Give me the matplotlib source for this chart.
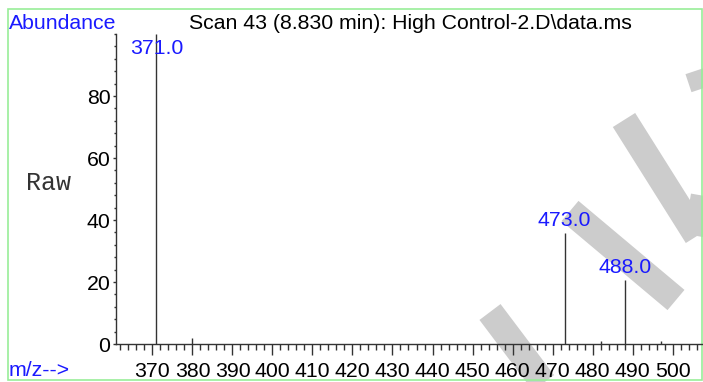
import matplotlib
matplotlib.use("Agg")
import matplotlib.pyplot as plt
from matplotlib.lines import Line2D
from matplotlib.patches import Rectangle

# spectrum (scan 43)
mz = [371.0, 380.0, 473.0, 482.0, 488.0, 497.0]
abundance = [100.0, 1.9, 35.8, 1.0, 20.6, 0.9]
labeled = [371.0, 473.0, 488.0]

x_ticks = list(range(370, 501, 10))
y_ticks = [0, 20, 40, 60, 80]

title = "Scan 43 (8.830 min): High Control-2.D\\data.ms"

plt.rcParams['font.family'] = ['Liberation Sans', 'DejaVu Sans']
fs = 15.3

W, H = 703, 382
fig = plt.figure(figsize=(W / 100, H / 100), dpi=100)

def px(x, y):  # pixel coords (top-left origin) -> figure fraction
    return x / W, 1 - y / H

# grey watermark strokes behind everything
grey = '#cccccc'
for (x0, y0), (x1, y1) in [((490, 312), (545, 385)),
                           ((570, 211), (676, 300)),
                           ((624, 120), (697, 236)),
                           ((697, 236), (712, 150)),
                           ((698, 70), (712, 112))]:
    a, b = px(x0, y0), px(x1, y1)
    fig.add_artist(Line2D([a[0], b[0]], [a[1], b[1]], transform=fig.transFigure,
                          color=grey, lw=19, solid_capstyle='butt', zorder=0))

# green frame
l, t = px(8, 9)
r, b = px(702, 380)
fig.add_artist(Rectangle((l, b), r - l, t - b, transform=fig.transFigure,
                         fill=False, edgecolor='#98ee98', lw=1.2, zorder=1))

ax = fig.add_axes([116 / W, (H - 344) / H, (W - 116) / W, (344 - 34) / H])
ax.patch.set_alpha(0)
ax.set_zorder(2)

ax.vlines(mz, 0, abundance, color='#333333', lw=1)
ax.set_xlim(360.9, 507.6)
ax.set_ylim(0, 100)

for x, y in zip(mz, abundance):
    if x not in labeled:
        continue
    if y > 90:
        ax.text(x, 98.4, f"{x:.1f}", color='#1a1aff', fontsize=fs,
                ha='center', va='top')
    else:
        ax.annotate(f"{x:.1f}", (x, y), xytext=(0, 2), textcoords='offset points',
                    color='#1a1aff', fontsize=fs, ha='center', va='bottom')

ax.spines['top'].set_visible(False)
ax.spines['right'].set_visible(False)
for s in ['left', 'bottom']:
    ax.spines[s].set_color('#333333')
    ax.spines[s].set_linewidth(1)

ax.set_xticks(x_ticks)
ax.set_xticks(range(362, 508, 2), minor=True)
ax.set_yticks(y_ticks)
ax.set_yticks(range(0, 101, 4), minor=True)
ax.tick_params(axis='x', which='major', length=8, width=1, pad=5,
               labelsize=fs, color='#333333')
ax.tick_params(axis='x', which='minor', length=4.5, width=1, color='#333333')
ax.tick_params(axis='y', which='major', length=2.5, width=1, pad=1.5,
               labelsize=fs, color='#333333')
ax.tick_params(axis='y', which='minor', length=1.5, width=1, color='#333333')

# header and axis captions
fig.text(*px(9, 29), "Abundance", color='#1a1aff', fontsize=fs, va='baseline')
fig.text(*px(410, 29), title, color='black', fontsize=fs, ha='center', va='baseline')
fig.text(*px(9, 376), "m/z-->", color='#1a1aff', fontsize=fs, va='baseline')
fig.text(*px(48, 183), "Raw", family='Liberation Mono', color='#333333',
         fontsize=18, ha='center', va='center')

fig.savefig("out.png", dpi=100)
